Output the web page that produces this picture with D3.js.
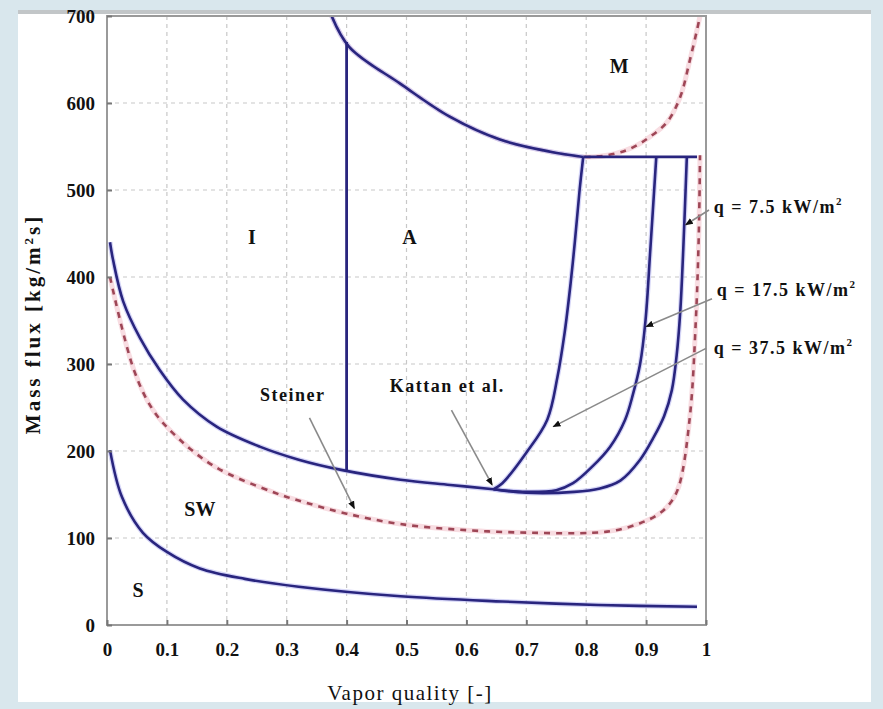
<!DOCTYPE html>
<html>
<head>
<meta charset="utf-8">
<script src="https://cdn.jsdelivr.net/npm/d3@7"></script>
<style>
  body { margin: 0; background: #d9e7ed; }
  svg { display: block; }
</style>
</head>
<body>
<div id="okvir"></div>
<script>
// tocke ocitane sa slike: [kvaliteta pare, maseni tok]
const xTicks = [0, 0.1, 0.2, 0.3, 0.4, 0.5, 0.6, 0.7, 0.8, 0.9, 1]
const yTicks = [0, 100, 200, 300, 400, 500, 600, 700]
const xTickLabels = ["0", "0.1", "0.2", "0.3", "0.4", "0.5", "0.6", "0.7", "0.8", "0.9", "1"]

const kattanSS = [[0.005,201],[0.025,147],[0.06,106],[0.1,84],[0.155,65],[0.23,53],[0.32,44],[0.49,33],[0.66,27],[0.82,23],[0.985,21]]
const kattanSW = [[0.005,440],[0.01,420],[0.027,372],[0.055,330],[0.088,293],[0.127,259],[0.183,228],[0.255,205],[0.32,190],[0.393,178],[0.49,167],[0.573,161],[0.645,156]]
const q375 = [[0.645,156],[0.66,163],[0.7,198],[0.735,236],[0.752,285],[0.764,336],[0.774,393],[0.781,440],[0.789,500],[0.795,538]]
const q175 = [[0.645,156],[0.7,153],[0.75,155],[0.778,163],[0.81,182],[0.84,205],[0.865,236],[0.878,265],[0.89,300],[0.899,350],[0.907,431],[0.917,538]]
const q75 = [[0.645,156],[0.7,152],[0.78,153],[0.823,157],[0.857,166],[0.89,190],[0.912,215],[0.93,240],[0.943,270],[0.951,310],[0.957,360],[0.962,431],[0.968,538]]
const kattanMist = [[0.375,700],[0.405,664],[0.49,622],[0.573,584],[0.656,558],[0.74,544],[0.795,538],[0.985,538]]
const kattanIA = [[0.4,178],[0.4,670]]

const steinerSW = [[0.005,400],[0.045,293],[0.077,247],[0.117,216],[0.18,182],[0.28,152],[0.33,141],[0.4,128],[0.49,116],[0.6,109],[0.71,106],[0.81,106],[0.85,109],[0.89,117],[0.92,127],[0.94,140],[0.955,160],[0.973,239],[0.983,350],[0.988,450],[0.99,540]]
const steinerMist = [[0.375,700],[0.405,664],[0.49,622],[0.573,584],[0.656,558],[0.74,544],[0.8,538],[0.85,542],[0.878,549],[0.906,561],[0.935,578],[0.957,607],[0.973,649],[0.985,684],[0.99,700]]

const oblasti = [
  { tekst: "M", x: 0.855, y: 640 },
  { tekst: "I", x: 0.242, y: 443 },
  { tekst: "A", x: 0.505, y: 443 },
  { tekst: "SW", x: 0.155, y: 130 },
  { tekst: "S", x: 0.052, y: 38 },
]

// oznake sa strelicama: od (x0,y0) do vrha (x1,y1)
const oznake = [
  { tekst: "q = 7.5 kW/m", sup: "2", tx: 1.013, ty: 478, x0: 1.005, y0: 477, x1: 0.966, y1: 460 },
  { tekst: "q = 17.5 kW/m", sup: "2", tx: 1.018, ty: 383, x0: 1.01, y0: 375, x1: 0.9, y1: 343 },
  { tekst: "q = 37.5 kW/m", sup: "2", tx: 1.013, ty: 316, x0: 1.0, y0: 318, x1: 0.745, y1: 228 },
  { tekst: "Kattan et al.", tx: 0.568, ty: 272, x0: 0.575, y0: 247, x1: 0.643, y1: 161 },
  { tekst: "Steiner", tx: 0.31, ty: 262, x0: 0.338, y0: 238, x1: 0.413, y1: 134 },
]

const dimenzije = {
  sirina: 883,
  visina: 709,
  margine: { top: 16, right: 177, bottom: 84, left: 107 },
}
dimenzije.grSirina = dimenzije.sirina - dimenzije.margine.left - dimenzije.margine.right
dimenzije.grVisina = dimenzije.visina - dimenzije.margine.top - dimenzije.margine.bottom

const okvir = d3.select("#okvir")
  .append("svg")
  .attr("width", dimenzije.sirina)
  .attr("height", dimenzije.visina)

// pozadina poput slajda
okvir.append("rect")
  .attr("width", dimenzije.sirina).attr("height", dimenzije.visina)
  .attr("fill", "#d9e7ed")
okvir.append("rect")
  .attr("x", 18).attr("y", 10).attr("width", 853).attr("height", 692)
  .attr("fill", "#ffffff")
okvir.append("rect")
  .attr("x", 18).attr("y", 10).attr("width", 853).attr("height", 4)
  .attr("fill", "#c2c6c8")

const granice = okvir.append("g")
  .attr("transform", `translate(${dimenzije.margine.left},${dimenzije.margine.top})`)

const xSkala = d3.scaleLinear().domain([0, 1]).range([0, dimenzije.grSirina])
const ySkala = d3.scaleLinear().domain([0, 700]).range([dimenzije.grVisina, 0])

// mreza
granice.append("g").selectAll("line").data(xTicks.slice(1, -1)).join("line")
  .attr("x1", d => xSkala(d)).attr("x2", d => xSkala(d))
  .attr("y1", 0).attr("y2", dimenzije.grVisina)
  .attr("stroke", "#c8c8c8").attr("stroke-width", 1.2).attr("stroke-dasharray", "4,4")
granice.append("g").selectAll("line").data(yTicks.slice(1, -1)).join("line")
  .attr("y1", d => ySkala(d)).attr("y2", d => ySkala(d))
  .attr("x1", 0).attr("x2", dimenzije.grSirina)
  .attr("stroke", "#c8c8c8").attr("stroke-width", 1.2).attr("stroke-dasharray", "4,4")

granice.append("clipPath").attr("id", "clip")
  .append("rect").attr("width", dimenzije.grSirina).attr("height", dimenzije.grVisina)

const linija = d3.line()
  .x(d => xSkala(d[0]))
  .y(d => ySkala(d[1]))
  .curve(d3.curveCatmullRom.alpha(0.5))
const ravna = d3.line()
  .x(d => xSkala(d[0]))
  .y(d => ySkala(d[1]))

const krivulje = granice.append("g").attr("clip-path", "url(#clip)")

const crtkane = [steinerSW, steinerMist]
krivulje.selectAll(".halo-c").data(crtkane).join("path")
  .attr("d", linija).attr("fill", "none")
  .attr("stroke", "#f8dde2").attr("stroke-width", 5)
krivulje.selectAll(".crtkana").data(crtkane).join("path")
  .attr("d", linija).attr("fill", "none")
  .attr("stroke", "#9e4656").attr("stroke-width", 2.6).attr("stroke-dasharray", "6,6")

const pune = [kattanSS, kattanSW, q375, q175, q75, kattanMist.slice(0, 7)]
krivulje.selectAll(".halo").data(pune).join("path")
  .attr("d", linija).attr("fill", "none")
  .attr("stroke", "#c4c4f4").attr("stroke-width", 5).attr("stroke-opacity", 0.7)
krivulje.selectAll(".puna").data(pune).join("path")
  .attr("d", linija).attr("fill", "none")
  .attr("stroke", "#29257e").attr("stroke-width", 2.6)
krivulje.selectAll(".ravna").data([kattanMist.slice(6), kattanIA]).join("path")
  .attr("d", ravna).attr("fill", "none")
  .attr("stroke", "#29257e").attr("stroke-width", 2.8)

// okvir grafa
granice.append("rect")
  .attr("width", dimenzije.grSirina).attr("height", dimenzije.grVisina)
  .attr("fill", "none").attr("stroke", "#9a9a9a").attr("stroke-width", 2)

// osi
const xOsGen = d3.axisBottom(xSkala).tickValues(xTicks)
  .tickFormat((d, i) => xTickLabels[i]).tickSize(-5).tickPadding(18)
const xOs = granice.append("g")
  .attr("transform", `translate(0,${dimenzije.grVisina})`)
  .call(xOsGen)
const yOsGen = d3.axisLeft(ySkala).tickValues(yTicks).tickSize(-5).tickPadding(12)
const yOs = granice.append("g").call(yOsGen)

for (const os of [xOs, yOs]) {
  os.select(".domain").remove()
  os.selectAll(".tick line").attr("stroke", "#777").attr("stroke-width", 2)
  os.selectAll(".tick text")
    .attr("fill", "#111")
    .style("font-family", "'Liberation Serif', 'DejaVu Serif', serif")
    .style("font-weight", "bold")
    .style("font-size", "19px")
}

const xOsOznaka = okvir.append("text")
  .attr("x", 410).attr("y", 700)
  .attr("text-anchor", "middle")
  .attr("fill", "#111")
  .style("font-family", "'Liberation Serif', serif")
  .style("font-size", "21px")
  .style("letter-spacing", "1.5px")
  .text("Vapor quality [-]")

const yOsOznaka = okvir.append("text")
  .attr("transform", "translate(40,324) rotate(-90)")
  .attr("text-anchor", "middle")
  .attr("fill", "#111")
  .style("font-family", "'Liberation Serif', serif")
  .style("font-weight", "bold")
  .style("font-size", "21px")
  .style("letter-spacing", "3px")
yOsOznaka.append("tspan").text("Mass flux [kg/m")
yOsOznaka.append("tspan").attr("dy", -7).style("font-size", "13px").text("2")
yOsOznaka.append("tspan").attr("dy", 7).text("s]")

// oznake rezima
granice.selectAll(".oblast").data(oblasti).join("text")
  .attr("x", d => xSkala(d.x)).attr("y", d => ySkala(d.y))
  .attr("text-anchor", "middle").attr("dominant-baseline", "middle")
  .attr("fill", "#111")
  .style("font-family", "'Liberation Serif', serif")
  .style("font-weight", "bold")
  .style("font-size", "20px")
  .text(d => d.tekst)

// strelice
okvir.append("defs").append("marker")
  .attr("id", "vrh").attr("viewBox", "0 0 10 10")
  .attr("refX", 9).attr("refY", 5)
  .attr("markerWidth", 5).attr("markerHeight", 5)
  .attr("orient", "auto")
  .append("path").attr("d", "M0,1 L10,5 L0,9 Z").attr("fill", "#111")

granice.selectAll(".vodic").data(oznake).join("line")
  .attr("x1", d => xSkala(d.x0)).attr("y1", d => ySkala(d.y0))
  .attr("x2", d => xSkala(d.x1)).attr("y2", d => ySkala(d.y1))
  .attr("stroke", "#8a8a8a").attr("stroke-width", 1.6)
  .attr("marker-end", "url(#vrh)")

const natpisi = granice.selectAll(".natpis").data(oznake).join("text")
  .attr("x", d => xSkala(d.tx)).attr("y", d => ySkala(d.ty))
  .attr("text-anchor", d => d.sup ? "start" : "middle")
  .attr("dominant-baseline", "middle")
  .attr("fill", "#111")
  .style("font-family", "'Liberation Serif', serif")
  .style("font-weight", "bold")
  .style("font-size", "18px")
  .style("letter-spacing", "1.5px")
natpisi.append("tspan").text(d => d.tekst)
natpisi.filter(d => d.sup).append("tspan")
  .attr("dy", -7).style("font-size", "11px").text(d => d.sup)
</script>
</body>
</html>
